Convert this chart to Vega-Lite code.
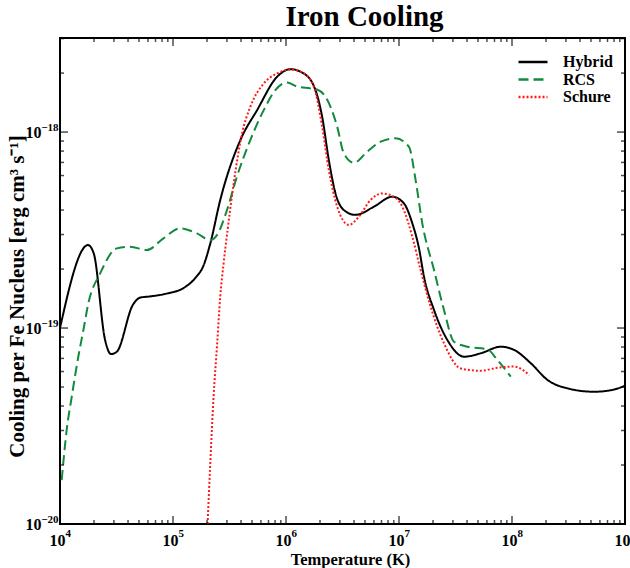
{
  "$schema": "https://vega.github.io/schema/vega-lite/v6.json",
  "autosize": {"type": "none"},
  "width": 565,
  "height": 486,
  "padding": {"left": 60, "top": 38, "right": 5, "bottom": 44},
  "background": "white",
  "config": {
    "view": {"stroke": "black", "strokeWidth": 2},
    "font": "Liberation Serif",
    "axis": {"domainColor": "black", "domainWidth": 2, "grid": false, "labelFont": "Liberation Serif", "labelFontWeight": "bold", "labelFontSize": 16, "labelColor": "black", "titleFont": "Liberation Serif", "titleFontWeight": "bold", "titleColor": "black", "labelOverlap": false, "labelFlush": false, "labelBound": false}
  },
  "title": {"text": "Iron Cooling", "font": "Liberation Serif", "fontSize": 29, "fontWeight": "bold", "color": "black", "anchor": "middle", "dx": 22, "offset": 6},
  "datasets": {
    "xticks": [
      {"T": 10000, "kind": "major"}, {"T": 20000, "kind": "minor"}, {"T": 30000, "kind": "minor"}, {"T": 40000, "kind": "minor"}, {"T": 50000, "kind": "minor"}, {"T": 60000, "kind": "minor"}, {"T": 70000, "kind": "minor"}, {"T": 80000, "kind": "minor"}, {"T": 90000, "kind": "minor"},
      {"T": 100000, "kind": "major"}, {"T": 200000, "kind": "minor"}, {"T": 300000, "kind": "minor"}, {"T": 400000, "kind": "minor"}, {"T": 500000, "kind": "minor"}, {"T": 600000, "kind": "minor"}, {"T": 700000, "kind": "minor"}, {"T": 800000, "kind": "minor"}, {"T": 900000, "kind": "minor"},
      {"T": 1000000, "kind": "major"}, {"T": 2000000, "kind": "minor"}, {"T": 3000000, "kind": "minor"}, {"T": 4000000, "kind": "minor"}, {"T": 5000000, "kind": "minor"}, {"T": 6000000, "kind": "minor"}, {"T": 7000000, "kind": "minor"}, {"T": 8000000, "kind": "minor"}, {"T": 9000000, "kind": "minor"},
      {"T": 10000000, "kind": "major"}, {"T": 20000000, "kind": "minor"}, {"T": 30000000, "kind": "minor"}, {"T": 40000000, "kind": "minor"}, {"T": 50000000, "kind": "minor"}, {"T": 60000000, "kind": "minor"}, {"T": 70000000, "kind": "minor"}, {"T": 80000000, "kind": "minor"}, {"T": 90000000, "kind": "minor"},
      {"T": 100000000, "kind": "major"}, {"T": 200000000, "kind": "minor"}, {"T": 300000000, "kind": "minor"}, {"T": 400000000, "kind": "minor"}, {"T": 500000000, "kind": "minor"}, {"T": 600000000, "kind": "minor"}, {"T": 700000000, "kind": "minor"}, {"T": 800000000, "kind": "minor"}, {"T": 900000000, "kind": "minor"},
      {"T": 1000000000, "kind": "major"}
    ],
    "yticks": [
      {"L": 1e-20, "kind": "major"}, {"L": 2e-20, "kind": "minor"}, {"L": 3e-20, "kind": "minor"}, {"L": 4e-20, "kind": "minor"}, {"L": 5e-20, "kind": "minor"}, {"L": 6e-20, "kind": "minor"}, {"L": 7e-20, "kind": "minor"}, {"L": 8e-20, "kind": "minor"}, {"L": 9e-20, "kind": "minor"},
      {"L": 1e-19, "kind": "major"}, {"L": 2e-19, "kind": "minor"}, {"L": 3e-19, "kind": "minor"}, {"L": 4e-19, "kind": "minor"}, {"L": 5e-19, "kind": "minor"}, {"L": 6e-19, "kind": "minor"}, {"L": 7e-19, "kind": "minor"}, {"L": 8e-19, "kind": "minor"}, {"L": 9e-19, "kind": "minor"},
      {"L": 1e-18, "kind": "major"}, {"L": 2e-18, "kind": "minor"}, {"L": 3e-18, "kind": "minor"}
    ],
    "cooling": [
    {"series": "Hybrid", "T": 10000, "L": 1.00e-19},
    {"series": "Hybrid", "T": 17700, "L": 2.65e-19},
    {"series": "Hybrid", "T": 19900, "L": 2.40e-19},
    {"series": "Hybrid", "T": 25060, "L": 8.69e-20},
    {"series": "Hybrid", "T": 28310, "L": 7.36e-20},
    {"series": "Hybrid", "T": 31840, "L": 7.57e-20},
    {"series": "Hybrid", "T": 44060, "L": 1.31e-19},
    {"series": "Hybrid", "T": 51170, "L": 1.43e-19},
    {"series": "Hybrid", "T": 62810, "L": 1.45e-19},
    {"series": "Hybrid", "T": 88310, "L": 1.50e-19},
    {"series": "Hybrid", "T": 123900, "L": 1.60e-19},
    {"series": "Hybrid", "T": 157400, "L": 1.80e-19},
    {"series": "Hybrid", "T": 186600, "L": 2.09e-19},
    {"series": "Hybrid", "T": 213800, "L": 2.70e-19},
    {"series": "Hybrid", "T": 261800, "L": 4.50e-19},
    {"series": "Hybrid", "T": 394500, "L": 9.10e-19},
    {"series": "Hybrid", "T": 554600, "L": 1.294e-18},
    {"series": "Hybrid", "T": 833700, "L": 1.914e-18},
    {"series": "Hybrid", "T": 1094000, "L": 2.094e-18},
    {"series": "Hybrid", "T": 1435000, "L": 1.991e-18},
    {"series": "Hybrid", "T": 1824000, "L": 1.637e-18},
    {"series": "Hybrid", "T": 2089000, "L": 1.197e-18},
    {"series": "Hybrid", "T": 2393000, "L": 7.19e-19},
    {"series": "Hybrid", "T": 2742000, "L": 4.86e-19},
    {"series": "Hybrid", "T": 3251000, "L": 4.00e-19},
    {"series": "Hybrid", "T": 4121000, "L": 3.78e-19},
    {"series": "Hybrid", "T": 5998000, "L": 4.16e-19},
    {"series": "Hybrid", "T": 8710000, "L": 4.68e-19},
    {"series": "Hybrid", "T": 11040000, "L": 4.33e-19},
    {"series": "Hybrid", "T": 13120000, "L": 3.42e-19},
    {"series": "Hybrid", "T": 15030000, "L": 2.55e-19},
    {"series": "Hybrid", "T": 16630000, "L": 1.83e-19},
    {"series": "Hybrid", "T": 20420000, "L": 1.236e-19},
    {"series": "Hybrid", "T": 26790000, "L": 8.69e-20},
    {"series": "Hybrid", "T": 37670000, "L": 7.14e-20},
    {"series": "Hybrid", "T": 52840000, "L": 7.43e-20},
    {"series": "Hybrid", "T": 79620000, "L": 8.03e-20},
    {"series": "Hybrid", "T": 104500000, "L": 7.73e-20},
    {"series": "Hybrid", "T": 146900000, "L": 6.61e-20},
    {"series": "Hybrid", "T": 206500000, "L": 5.43e-20},
    {"series": "Hybrid", "T": 310500000, "L": 4.92e-20},
    {"series": "Hybrid", "T": 534600000, "L": 4.73e-20},
    {"series": "Hybrid", "T": 803500000, "L": 4.86e-20},
    {"series": "Hybrid", "T": 1000000000, "L": 5.08e-20},
    {"series": "RCS", "T": 10350, "L": 1.675e-20},
    {"series": "RCS", "T": 11460, "L": 3.02e-20},
    {"series": "RCS", "T": 12710, "L": 4.47e-20},
    {"series": "RCS", "T": 14520, "L": 7.14e-20},
    {"series": "RCS", "T": 16110, "L": 9.77e-20},
    {"series": "RCS", "T": 17820, "L": 1.337e-19},
    {"series": "RCS", "T": 22650, "L": 1.90e-19},
    {"series": "RCS", "T": 31840, "L": 2.55e-19},
    {"series": "RCS", "T": 41780, "L": 2.60e-19},
    {"series": "RCS", "T": 58610, "L": 2.50e-19},
    {"series": "RCS", "T": 82410, "L": 2.87e-19},
    {"series": "RCS", "T": 115900, "L": 3.23e-19},
    {"series": "RCS", "T": 162900, "L": 3.04e-19},
    {"series": "RCS", "T": 213800, "L": 2.81e-19},
    {"series": "RCS", "T": 244900, "L": 2.98e-19},
    {"series": "RCS", "T": 300600, "L": 4.00e-19},
    {"series": "RCS", "T": 368100, "L": 5.93e-19},
    {"series": "RCS", "T": 483100, "L": 9.10e-19},
    {"series": "RCS", "T": 635300, "L": 1.294e-18},
    {"series": "RCS", "T": 805400, "L": 1.637e-18},
    {"series": "RCS", "T": 1021000, "L": 1.79e-18},
    {"series": "RCS", "T": 1253000, "L": 1.706e-18},
    {"series": "RCS", "T": 1644000, "L": 1.671e-18},
    {"series": "RCS", "T": 1884000, "L": 1.65e-18},
    {"series": "RCS", "T": 2477000, "L": 1.346e-18},
    {"series": "RCS", "T": 2838000, "L": 1.064e-18},
    {"series": "RCS", "T": 3251000, "L": 7.78e-19},
    {"series": "RCS", "T": 3981000, "L": 6.97e-19},
    {"series": "RCS", "T": 5236000, "L": 7.94e-19},
    {"series": "RCS", "T": 6871000, "L": 8.93e-19},
    {"series": "RCS", "T": 9333000, "L": 9.29e-19},
    {"series": "RCS", "T": 12250000, "L": 8.41e-19},
    {"series": "RCS", "T": 14030000, "L": 5.69e-19},
    {"series": "RCS", "T": 16070000, "L": 3.42e-19},
    {"series": "RCS", "T": 20420000, "L": 1.977e-19},
    {"series": "RCS", "T": 25000000, "L": 1.236e-19},
    {"series": "RCS", "T": 30690000, "L": 8.51e-20},
    {"series": "RCS", "T": 40270000, "L": 8.03e-20},
    {"series": "RCS", "T": 60530000, "L": 7.78e-20},
    {"series": "RCS", "T": 74300000, "L": 6.87e-20},
    {"series": "RCS", "T": 97500000, "L": 5.65e-20},
    {"series": "Schure", "T": 202300, "L": 1.0e-20},
    {"series": "Schure", "T": 213800, "L": 2.04e-20},
    {"series": "Schure", "T": 228600, "L": 4.47e-20},
    {"series": "Schure", "T": 244900, "L": 8.03e-20},
    {"series": "Schure", "T": 261800, "L": 1.445e-19},
    {"series": "Schure", "T": 280500, "L": 2.14e-19},
    {"series": "Schure", "T": 304100, "L": 3.16e-19},
    {"series": "Schure", "T": 344400, "L": 5.47e-19},
    {"series": "Schure", "T": 408300, "L": 9.84e-19},
    {"series": "Schure", "T": 483100, "L": 1.346e-18},
    {"series": "Schure", "T": 635300, "L": 1.77e-18},
    {"series": "Schure", "T": 833700, "L": 1.991e-18},
    {"series": "Schure", "T": 1094000, "L": 2.085e-18},
    {"series": "Schure", "T": 1435000, "L": 1.991e-18},
    {"series": "Schure", "T": 1762000, "L": 1.706e-18},
    {"series": "Schure", "T": 2089000, "L": 1.064e-18},
    {"series": "Schure", "T": 2393000, "L": 6.40e-19},
    {"series": "Schure", "T": 2838000, "L": 4.16e-19},
    {"series": "Schure", "T": 3597000, "L": 3.36e-19},
    {"series": "Schure", "T": 4416000, "L": 3.70e-19},
    {"series": "Schure", "T": 5598000, "L": 4.50e-19},
    {"series": "Schure", "T": 7096000, "L": 4.86e-19},
    {"series": "Schure", "T": 9016000, "L": 4.68e-19},
    {"series": "Schure", "T": 11040000, "L": 4.00e-19},
    {"series": "Schure", "T": 13120000, "L": 2.92e-19},
    {"series": "Schure", "T": 15520000, "L": 1.977e-19},
    {"series": "Schure", "T": 19050000, "L": 1.285e-19},
    {"series": "Schure", "T": 25000000, "L": 8.36e-20},
    {"series": "Schure", "T": 35160000, "L": 6.22e-20},
    {"series": "Schure", "T": 52840000, "L": 6.05e-20},
    {"series": "Schure", "T": 74300000, "L": 6.27e-20},
    {"series": "Schure", "T": 104500000, "L": 6.36e-20},
    {"series": "Schure", "T": 141900000, "L": 5.75e-20}
    ]
  },
  "layer": [
    {
      "data": {"name": "cooling"},
      "mark": {"type": "line", "strokeOpacity": 0, "clip": true},
      "encoding": {
        "x": {"field": "T", "type": "quantitative",
          "scale": {"type": "log", "domain": [10000, 1000000000], "nice": false},
          "axis": {"orient": "bottom", "title": null, "domain": false, "ticks": false,
            "values": [10000, 100000, 1000000, 10000000, 100000000, 1000000000],
            "labelFontSize": 11, "labelAlign": "left", "labelPadding": 3, "labelOffset": 5,
            "labelExpr": "'' + round(log(datum.value)/LN10)"}},
        "y": {"field": "L", "type": "quantitative",
          "scale": {"type": "log", "domain": [1e-20, 3.02e-18], "nice": false},
          "axis": {"orient": "left", "title": null, "domain": false, "ticks": false,
            "values": [1e-20, 1e-19, 1e-18],
            "labelFontSize": 11, "labelPadding": 2, "labelOffset": -5,
            "labelExpr": "'−' + (-round(log(datum.value)/LN10))"}},
        "detail": {"field": "series", "type": "nominal"}
      }
    },
    {
      "data": {"name": "cooling"},
      "mark": {"type": "line", "interpolate": "monotone", "strokeWidth": 2, "clip": true},
      "encoding": {
        "x": {"field": "T", "type": "quantitative",
          "scale": {"type": "log", "domain": [10000, 1000000000], "nice": false},
          "axis": {"orient": "bottom", "title": "Temperature (K)", "titleFontSize": 16.5, "titleX": 290, "titleY": 27, "titleBaseline": "top",
            "values": [10000, 100000, 1000000, 10000000, 100000000, 1000000000],
            "ticks": false, "domain": false, "labelPadding": 8, "labelOffset": -3,
            "labelExpr": "'10'"
          }},
        "y": {"field": "L", "type": "quantitative",
          "scale": {"type": "log", "domain": [1e-20, 3.02e-18], "nice": false},
          "axis": {"orient": "left", "title": "Cooling per Fe Nucleus [erg cm³ s⁻¹]", "titleFontSize": 21, "titleX": -43, "titleY": 258, "titleBaseline": "middle",
            "values": [1e-20, 1e-19, 1e-18],
            "ticks": false, "domain": false, "labelPadding": 19,
            "labelExpr": "'10'"
          }},
        "color": {"field": "series", "type": "nominal",
          "scale": {"domain": ["Hybrid", "RCS", "Schure"], "range": ["#000000", "#118a3e", "#ff1a1a"]},
          "legend": {"orient": "none", "legendX": 465, "legendY": 16, "title": null, "symbolType": "M-2.9,0L2.9,0", "symbolSize": 100, "symbolStrokeWidth": 2.5, "symbolFillColor": "transparent", "labelFont": "Liberation Serif", "labelFontWeight": "bold", "labelFontSize": 16, "labelColor": "black", "rowPadding": 1.5, "labelOffset": 22}},
        "strokeDash": {"field": "series", "type": "nominal",
          "scale": {"domain": ["Hybrid", "RCS", "Schure"], "range": [[1, 0], [10, 5], [2, 2]]},
          "legend": null}
      }
    },
    {
      "data": {"name": "xticks"},
      "mark": {"type": "tick", "orient": "vertical", "thickness": 1.5, "color": "black", "clip": true},
      "encoding": {
        "x": {"field": "T", "type": "quantitative", "scale": {"type": "log", "domain": [10000, 1000000000], "nice": false}, "axis": null},
        "y": {"datum": 1e-20, "type": "quantitative", "scale": {"type": "log", "domain": [1e-20, 3.02e-18], "nice": false}, "axis": null},
        "size": {"field": "kind", "type": "nominal", "scale": {"domain": ["major", "minor"], "range": [16, 8]}, "legend": null}
      }
    },
    {
      "data": {"name": "xticks"},
      "mark": {"type": "tick", "orient": "vertical", "thickness": 1.5, "color": "black", "clip": true},
      "encoding": {
        "x": {"field": "T", "type": "quantitative", "scale": {"type": "log", "domain": [10000, 1000000000], "nice": false}, "axis": null},
        "y": {"datum": 3.02e-18, "type": "quantitative", "scale": {"type": "log", "domain": [1e-20, 3.02e-18], "nice": false}, "axis": null},
        "size": {"field": "kind", "type": "nominal", "scale": {"domain": ["major", "minor"], "range": [16, 8]}, "legend": null}
      }
    },
    {
      "data": {"name": "yticks"},
      "mark": {"type": "tick", "orient": "horizontal", "thickness": 1.5, "color": "black", "clip": true},
      "encoding": {
        "y": {"field": "L", "type": "quantitative", "scale": {"type": "log", "domain": [1e-20, 3.02e-18], "nice": false}, "axis": null},
        "x": {"datum": 10000, "type": "quantitative", "scale": {"type": "log", "domain": [10000, 1000000000], "nice": false}, "axis": null},
        "size": {"field": "kind", "type": "nominal", "scale": {"domain": ["major", "minor"], "range": [16, 8]}, "legend": null}
      }
    },
    {
      "data": {"name": "yticks"},
      "mark": {"type": "tick", "orient": "horizontal", "thickness": 1.5, "color": "black", "clip": true},
      "encoding": {
        "y": {"field": "L", "type": "quantitative", "scale": {"type": "log", "domain": [1e-20, 3.02e-18], "nice": false}, "axis": null},
        "x": {"datum": 1000000000, "type": "quantitative", "scale": {"type": "log", "domain": [10000, 1000000000], "nice": false}, "axis": null},
        "size": {"field": "kind", "type": "nominal", "scale": {"domain": ["major", "minor"], "range": [16, 8]}, "legend": null}
      }
    }
  ],
  "resolve": {"axis": {"x": "independent", "y": "independent"}}
}
